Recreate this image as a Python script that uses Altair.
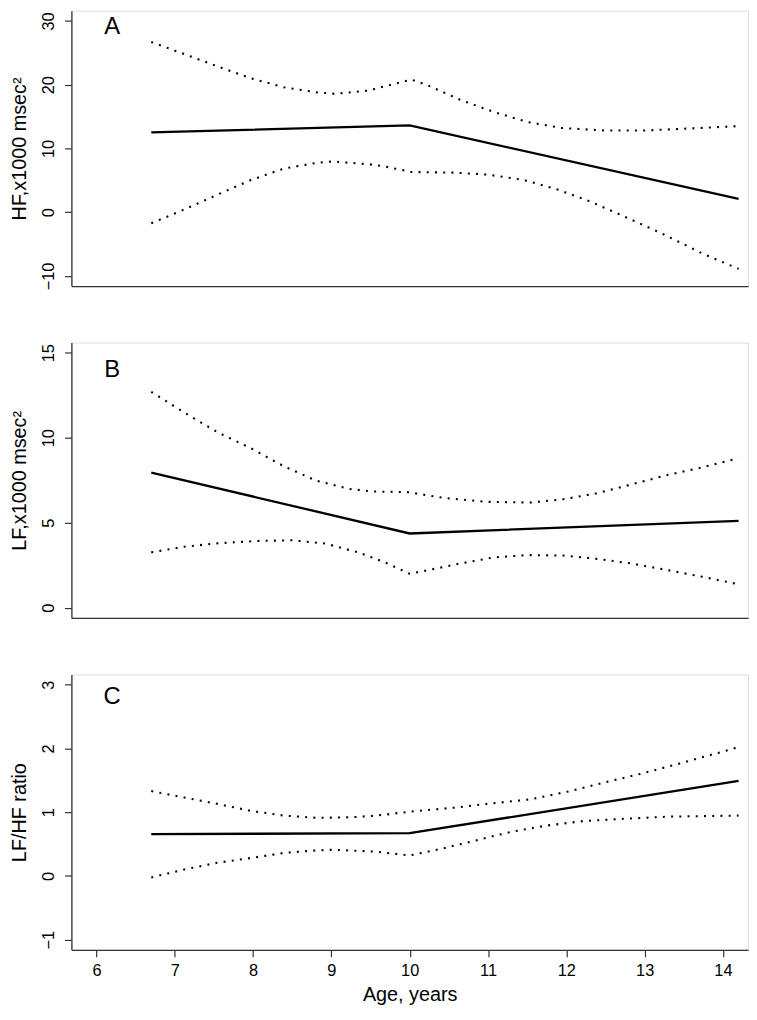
import altair as alt
import pandas as pd

# ---------------- data ----------------
# Panel A : HF
A_fit_x = [6.7, 10.0, 14.2]
A_fit_y = [12.5, 13.6, 2.1]
A_up_x = [6.70, 7.12, 7.54, 7.97, 8.39, 8.81, 9.05, 9.49, 9.60, 10.02, 10.23, 10.65, 11.08, 11.50, 11.94, 12.51, 12.98, 13.53, 14.2]
A_up_y = [26.7, 24.8, 22.9, 21.0, 19.6, 18.8, 18.56, 19.1, 19.5, 20.8, 19.9, 17.6, 15.7, 14.15, 13.2, 12.8, 12.8, 13.1, 13.5]
A_lo_x = [6.70, 7.12, 7.54, 7.97, 8.39, 8.81, 9.02, 9.49, 9.68, 10.02, 10.57, 10.99, 11.46, 11.90, 12.30, 12.73, 13.23, 13.74, 14.2]
A_lo_y = [-1.74, 0.41, 2.72, 5.03, 6.82, 7.74, 7.95, 7.5, 7.18, 6.3, 6.2, 5.9, 5.03, 3.5, 1.7, -0.62, -3.4, -6.5, -8.9]

# Panel B : LF
B_fit_x = [6.7, 10.0, 14.2]
B_fit_y = [7.95, 4.37, 5.11]
B_up_x = [6.70, 7.12, 7.54, 7.97, 8.39, 8.81, 9.23, 9.53, 9.98, 10.44, 10.99, 11.54, 11.96, 12.41, 12.85, 13.30, 13.72, 14.2]
B_up_y = [12.70, 11.49, 10.34, 9.39, 8.33, 7.47, 6.99, 6.84, 6.80, 6.46, 6.23, 6.19, 6.38, 6.75, 7.28, 7.82, 8.24, 8.80]
B_lo_x = [6.70, 7.12, 7.54, 8.05, 8.49, 8.92, 9.34, 9.57, 9.68, 10.0, 10.19, 10.63, 11.08, 11.52, 11.96, 12.41, 12.85, 13.30, 13.74, 14.2]
B_lo_y = [3.26, 3.59, 3.79, 3.93, 3.97, 3.78, 3.26, 2.87, 2.68, 2.0, 2.17, 2.59, 2.97, 3.10, 3.07, 2.87, 2.59, 2.21, 1.82, 1.38]

# Panel C : LF/HF ratio
C_fit_x = [6.7, 10.0, 14.2]
C_fit_y = [0.655, 0.67, 1.49]
C_up_x = [6.70, 7.12, 7.54, 7.97, 8.39, 8.81, 9.26, 9.58, 10.02, 10.57, 10.99, 11.54, 12.01, 12.47, 12.98, 13.53, 14.2]
C_up_y = [1.33, 1.23, 1.13, 1.02, 0.946, 0.91, 0.92, 0.946, 1.01, 1.07, 1.13, 1.20, 1.32, 1.46, 1.61, 1.79, 2.02]
C_lo_x = [6.70, 7.12, 7.54, 7.97, 8.39, 8.81, 9.02, 9.57, 10.0, 10.44, 10.86, 11.29, 11.75, 12.22, 12.73, 13.32, 14.2]
C_lo_y = [-0.025, 0.10, 0.205, 0.28, 0.36, 0.40, 0.41, 0.38, 0.32, 0.435, 0.56, 0.69, 0.79, 0.86, 0.895, 0.93, 0.946]

x_ticks = [6, 7, 8, 9, 10, 11, 12, 13, 14]
A_ticks = [-10, 0, 10, 20, 30]
B_ticks = [0, 5, 10, 15]
C_ticks = [-1, 0, 1, 2, 3]

letters = ["A", "B", "C"]
y_titles = ["HF,x1000 msec\u00b2", "LF,x1000 msec\u00b2", "LF/HF ratio"]
x_title = "Age, years"

# ---------------- layout ----------------
FONT = "Liberation Sans"
W = 683
H = 278
X_DOMAIN = [5.68, 14.32]


def ext(lo, hi):
    d = (hi - lo) * 0.04
    return [lo - d, hi + d]


def panel(fit_x, fit_y, up_x, up_y, lo_x, lo_y, ticks, ytitle, letter, letter_xy, bottom):
    ydom = ext(ticks[0], ticks[-1])
    fit = pd.DataFrame({"x": fit_x, "y": fit_y})
    bands = pd.concat([
        pd.DataFrame({"x": up_x, "y": up_y, "band": "upper"}),
        pd.DataFrame({"x": lo_x, "y": lo_y, "band": "lower"}),
    ])
    lab = pd.DataFrame({"x": [letter_xy[0]], "y": [letter_xy[1]], "t": [letter]})

    if bottom:
        xaxis = alt.Axis(values=x_ticks, format="d", title=x_title, grid=False, tickSize=7,
                         labelPadding=6, labelFontSize=16.5, labelFont=FONT,
                         titleFont=FONT, titleFontSize=20, titleFontWeight="normal",
                         titleBaseline="alphabetic", titleY=51, labelFlush=False,
                         domainColor="#333", tickColor="#333", labelColor="black",
                         titleColor="black", domainWidth=1.3, tickWidth=1.2)
    else:
        xaxis = alt.Axis(labels=False, ticks=False, title=None, grid=False,
                         domainColor="#333", domainWidth=1.3)
    yaxis = alt.Axis(values=ticks, format="d", title=ytitle, grid=False, tickSize=7,
                     labelAngle=270, labelAlign="center", labelBaseline="alphabetic",
                     labelPadding=11.5, labelFontSize=16.5, labelFont=FONT,
                     labelFlush=False, labelOverlap=False,
                     titleFont=FONT, titleFontSize=20, titleFontWeight="normal",
                     titleAngle=270, titleBaseline="alphabetic", titleAlign="center",
                     titleX=-46.5, titleY=H / 2,
                     domainColor="#333", tickColor="#333", labelColor="black",
                     titleColor="black", domainWidth=1.3, tickWidth=1.2)

    xs = alt.X("x:Q", scale=alt.Scale(domain=X_DOMAIN, nice=False, zero=False), axis=xaxis)
    ys = alt.Y("y:Q", scale=alt.Scale(domain=ydom, nice=False, zero=False), axis=yaxis)

    solid = alt.Chart(fit).mark_line(color="black", strokeWidth=2.3).encode(x=xs, y=ys)
    dotted = alt.Chart(bands).mark_line(color="black", strokeWidth=2.1,
                                        strokeDash=[2, 6.3], strokeCap="butt").encode(
        x=xs, y=ys, detail="band:N")
    text = alt.Chart(lab).mark_text(font=FONT, fontSize=24, color="black",
                                    align="center", baseline="middle").encode(
        x=alt.X("x:Q"), y=alt.Y("y:Q"), text="t:N")
    return alt.layer(dotted, solid, text).properties(width=W, height=H)


pA = panel(A_fit_x, A_fit_y, A_up_x, A_up_y, A_lo_x, A_lo_y, A_ticks, y_titles[0], letters[0], (6.2, 29), False)
pB = panel(B_fit_x, B_fit_y, B_up_x, B_up_y, B_lo_x, B_lo_y, B_ticks, y_titles[1], letters[1], (6.2, 14), False)
pC = panel(C_fit_x, C_fit_y, C_up_x, C_up_y, C_lo_x, C_lo_y, C_ticks, y_titles[2], letters[2], (6.2, 2.8), True)

chart = alt.vconcat(pA, pB, pC, spacing=57, bounds="flush").properties(
    padding={"left": 1, "top": -3, "right": 0, "bottom": 0}
).configure_view(strokeWidth=0).configure(background="white")

chart.save("out.html", embed_options={"renderer": "svg", "actions": False})
